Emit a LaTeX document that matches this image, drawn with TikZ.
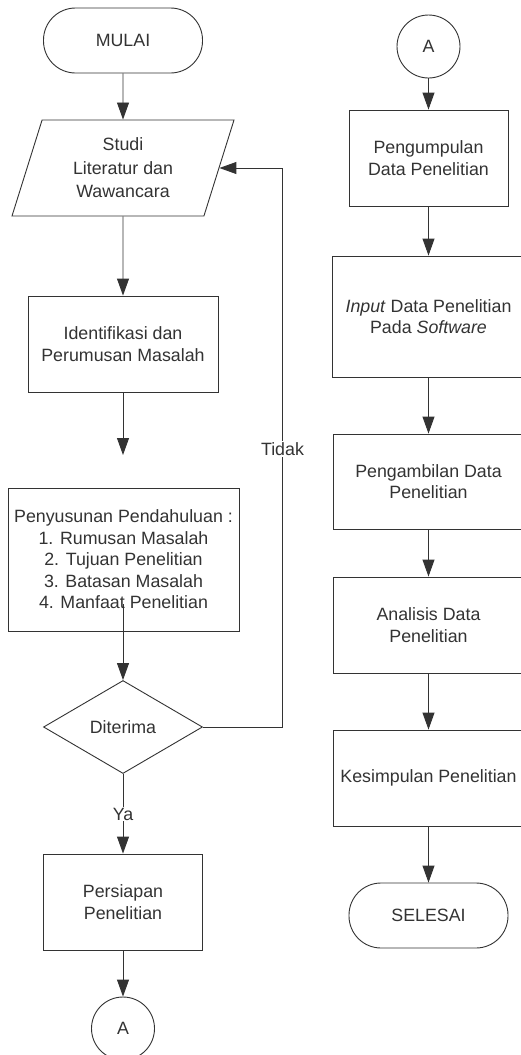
\documentclass[tikz,border=0pt]{standalone}
\usepackage{fontspec}
\setmainfont{Liberation Sans}
\usetikzlibrary{shapes.geometric,arrows.meta}
\definecolor{ln}{HTML}{333333}
\begin{document}
\begin{tikzpicture}[x=1pt,y=-1pt,
  every node/.style={font=\fontsize{17.8}{21.5}\selectfont, text=ln, align=center},
  box/.style={draw=ln, line width=0.9pt, minimum height=96, inner sep=0pt},
  term/.style={draw=ln, line width=0.9pt, rounded corners=32pt, minimum width=159, minimum height=65, inner sep=0pt},
  conn/.style={circle, draw=ln, line width=0.9pt, minimum size=63, inner sep=0pt},
  arr/.style={draw=ln, line width=0.9pt, -{Triangle[width=12pt,length=17pt]}},
  lbl/.style={fill=white, inner sep=1pt}]
\fill[white] (0,0) rectangle (521,1055);
\useasboundingbox (0,0) rectangle (521,1055);

% left column
\node[term] (mulai) at (123,40.5) {MULAI};
\node[draw=ln, line width=0.9pt, trapezium, trapezium left angle=63.4, trapezium right angle=116.6,
      trapezium stretches body, minimum width=222, minimum height=96, inner sep=0pt,
      font=\fontsize{17.8}{23.5}\selectfont] (studi) at (123,168) {Studi\\Literatur dan\\Wawancara};
\node[box, minimum width=190] (ident) at (123,344) {Identifikasi dan\\Perumusan Masalah};
\coordinate (gap) at (123,455);
\node[box, minimum width=231, minimum height=143] (susun) at (123.5,559.5)
  {Penyusunan Pendahuluan :\\1. Rumusan Masalah\\2. Tujuan Penelitian\\3. Batasan Masalah\\4. Manfaat Penelitian};
\coordinate (sstart) at (123,604);
\node[diamond, draw=ln, line width=0.9pt, minimum width=159, minimum height=93, inner sep=0pt] (dia) at (123,727) {Diterima};
\node[box, minimum width=159] (siap) at (123,902) {Persiapan\\Penelitian};
\node[conn] (a1) at (123,1028.5) {A};
\coordinate (tx) at (282.5,449);

% right column
\node[conn] (a2) at (428.5,46.5) {A};
\node[box, minimum width=159] (kumpul) at (428.5,158) {Pengumpulan\\Data Penelitian};
\node[box, minimum width=193, minimum height=121] (input) at (428.5,316.5) {\textit{Input} Data Penelitian\\Pada \textit{Software}};
\node[box, minimum width=191, minimum height=95] (ambil) at (428.5,481.5) {Pengambilan Data\\Penelitian};
\node[box, minimum width=191] (anal) at (428.5,625) {Analisis Data\\Penelitian};
\node[box, minimum width=191] (simpul) at (428.5,778) {Kesimpulan Penelitian};
\node[term] (selesai) at (428.5,915.5) {SELESAI};

% connectors
\draw[arr] (mulai) -- (studi);
\draw[arr] (studi) -- (ident);
\draw[arr] (ident) -- (gap);
\draw[arr] (sstart) -- (dia.north);
\draw[arr] (dia.east) -| (tx) |- (studi.right side);
\node[lbl] (tidak) at (tx) {Tidak};
\draw[arr] (dia.south) -- (siap.north);
\node[lbl] (ya) at (123,814) {Ya};
\draw[arr] (siap) -- (a1);

\draw[arr] (a2) -- (kumpul);
\draw[arr] (kumpul) -- (input.north -| kumpul);
\draw[arr] (input) -- (ambil);
\draw[arr] (ambil) -- (anal);
\draw[arr] (anal) -- (simpul);
\draw[arr] (simpul) -- (selesai);
\end{tikzpicture}
\end{document}
